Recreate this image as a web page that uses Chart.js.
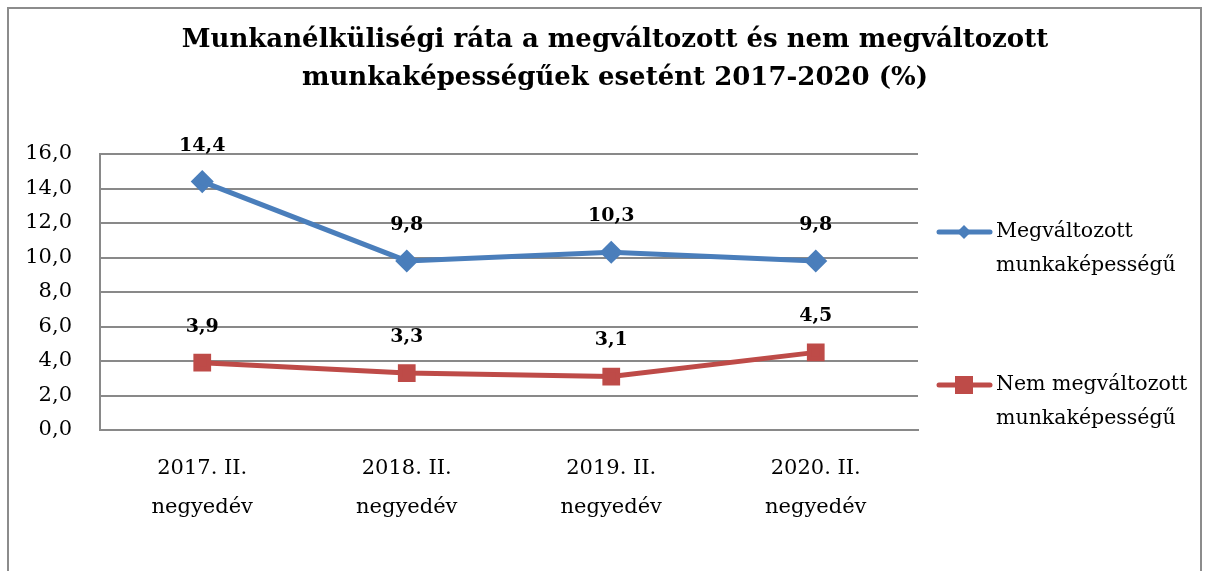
<!DOCTYPE html>
<html>
<head>
<meta charset="utf-8">
<script src="https://cdn.jsdelivr.net/npm/chart.js@4.4.0/dist/chart.umd.min.js"></script>
<style>
    html, body { margin: 0; padding: 0; background: #fff; }
    #wrap { position: relative; width: 1205px; height: 571px; overflow: hidden; }
    #frame { position: absolute; left: 7px; top: 7px; width: 1191px; height: 600px; border: 2px solid #8c8c8c; }
    #chart { position: absolute; left: 0; top: 0; }
</style>
</head>
<body>
<div id="wrap">
    <div id="frame"></div>
    <canvas id="chart" width="1205" height="571"></canvas>
</div>
<script>
const FONT = "'DejaVu Serif', 'Liberation Serif', serif";

const categories = [
    ['2017. II.', 'negyedév'],
    ['2018. II.', 'negyedév'],
    ['2019. II.', 'negyedév'],
    ['2020. II.', 'negyedév'],
];
const changedValues = [14.4, 9.8, 10.3, 9.8];
const unchangedValues = [3.9, 3.3, 3.1, 4.5];
const seriesNames = [
    ['Megváltozott', 'munkaképességű'],
    ['Nem megváltozott', 'munkaképességű'],
];
const titleLines = [
    'Munkanélküliségi ráta a megváltozott és nem megváltozott',
    'munkaképességűek esetént 2017-2020 (%)',
];

const fmt = v => v.toFixed(1).replace('.', ',');

// title drawn over the whole frame width (not only the plot + padding)
const frameTitle = {
    id: 'frameTitle',
    afterDraw(chart) {
        const ctx = chart.ctx;
        ctx.save();
        ctx.font = "bold 26px " + FONT;
        ctx.fillStyle = '#000';
        ctx.textAlign = 'center';
        ctx.textBaseline = 'middle';
        titleLines.forEach((line, i) => ctx.fillText(line, 615, 40 + i * 38));
        ctx.restore();
    }
};

// value labels above every point
const pointLabels = {
    id: 'pointLabels',
    afterDatasetsDraw(chart) {
        const ctx = chart.ctx;
        ctx.save();
        ctx.font = "bold 19px " + FONT;
        ctx.fillStyle = '#000';
        ctx.textAlign = 'center';
        ctx.textBaseline = 'middle';
        chart.data.datasets.forEach((ds, i) => {
            chart.getDatasetMeta(i).data.forEach((pt, j) => {
                ctx.fillText(fmt(ds.data[j]), pt.x, pt.y - 36);
            });
        });
        ctx.restore();
    }
};

// legend on the right, two-line entries
const sideLegend = {
    id: 'sideLegend',
    afterDraw(chart) {
        const ctx = chart.ctx;
        const rows = [232, 385];
        ctx.save();
        chart.data.datasets.forEach((ds, i) => {
            const y = rows[i];
            ctx.strokeStyle = ds.borderColor;
            ctx.lineWidth = 5;
            ctx.lineCap = 'round';
            ctx.beginPath();
            ctx.moveTo(939, y);
            ctx.lineTo(990, y);
            ctx.stroke();
            ctx.fillStyle = ds.pointBackgroundColor;
            if (ds.pointStyle === 'rectRot') {
                ctx.beginPath();
                ctx.moveTo(964, y - 7);
                ctx.lineTo(971, y);
                ctx.lineTo(964, y + 7);
                ctx.lineTo(957, y);
                ctx.closePath();
                ctx.fill();
            } else {
                ctx.fillRect(955, y - 9, 18, 18);
            }
            ctx.fillStyle = '#000';
            ctx.font = "20.5px " + FONT;
            ctx.textAlign = 'left';
            ctx.textBaseline = 'middle';
            seriesNames[i].forEach((line, k) => ctx.fillText(line, 996, y + k * 34));
        });
        ctx.restore();
    }
};

new Chart(document.getElementById('chart').getContext('2d'), {
    type: 'line',
    data: {
        labels: categories,
        datasets: [
            {
                label: seriesNames[0].join(' '),
                data: changedValues,
                borderColor: '#4a7ebb',
                backgroundColor: '#4a7ebb',
                pointBackgroundColor: '#4a7ebb',
                pointBorderColor: '#4a7ebb',
                pointStyle: 'rectRot',
                pointRadius: 8,
                borderWidth: 5,
                tension: 0,
            },
            {
                label: seriesNames[1].join(' '),
                data: unchangedValues,
                borderColor: '#be4b48',
                backgroundColor: '#be4b48',
                pointBackgroundColor: '#be4b48',
                pointBorderColor: '#be4b48',
                pointStyle: 'rect',
                pointRadius: 9,
                borderWidth: 5,
                tension: 0,
            },
        ],
    },
    options: {
        responsive: false,
        animation: false,
        layout: { padding: { left: 0, right: 287, top: 154, bottom: 0 } },
        plugins: {
            legend: { display: false },
            tooltip: { enabled: false },
            title: { display: false },
        },
        scales: {
            x: {
                offset: true,
                grid: { display: false, drawTicks: false },
                border: { display: true, color: '#898989', width: 2 },
                ticks: {
                    color: '#000',
                    padding: 19,
                    font: { family: FONT, size: 21, lineHeight: 1.85 },
                    maxRotation: 0,
                },
                afterFit: s => { s.height = 141; },
            },
            y: {
                min: 0,
                max: 16,
                ticks: {
                    stepSize: 2,
                    color: '#000',
                    padding: 28,
                    font: { family: FONT, size: 21 },
                    callback: v => fmt(v),
                },
                grid: { color: '#898989', lineWidth: 2, drawTicks: false },
                border: { display: true, color: '#898989', width: 2 },
                afterFit: s => { s.width = 100; },
            },
        },
    },
    plugins: [frameTitle, pointLabels, sideLegend],
});
</script>
</body>
</html>
